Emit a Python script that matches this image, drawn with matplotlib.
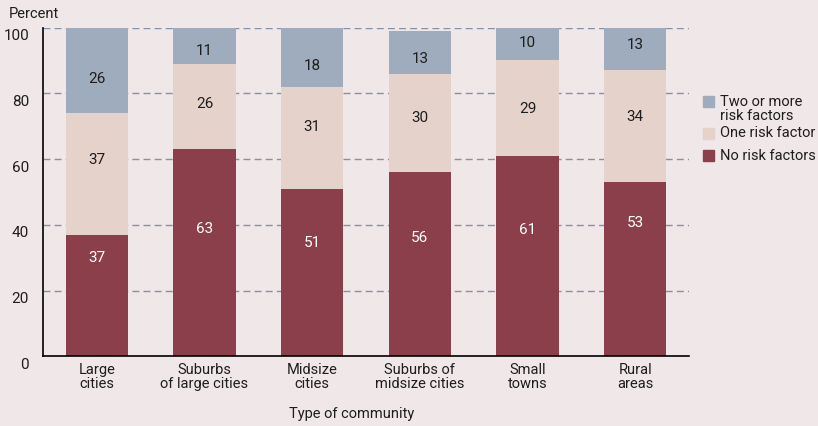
import matplotlib
matplotlib.use('Agg')
import matplotlib.pyplot as plt
import matplotlib.patches as mpatches
import matplotlib.transforms as mtransforms
import numpy as np

# ── data ─────────────────────────────────────
COMMUNITIES = ["Large\ncities", "Suburbs\nof large cities", "Midsize\ncities",
               "Suburbs of\nmidsize cities", "Small\ntowns", "Rural\nareas"]
NO_RISK     = [37, 63, 51, 56, 61, 53]
ONE_RISK    = [37, 26, 31, 30, 29, 34]
TWO_PLUS    = [26, 11, 18, 13, 10, 13]
Y_TICKS     = [0, 20, 40, 60, 80, 100]

# where the original puts the value labels (percent scale)
NO_LABEL_Y  = [30.0, 38.7, 34.4, 36.1, 38.3, 40.5]
ONE_LABEL_Y = [59.7, 76.8, 69.9, 72.4, 75.3, 72.8]
TWO_LABEL_Y = [84.4, 93.0, 88.4, 90.4, 95.4, 94.6]

BG      = '#F0E7E8'
C_NONE  = '#8A3F4A'
C_ONE   = '#E5D2CB'
C_TWO   = '#9FACBE'
TXT     = '#1E1E1E'

plt.rcParams['font.family'] = ['Roboto', 'DejaVu Sans']

W, H = 818, 426
fig = plt.figure(figsize=(W / 100, H / 100), dpi=100, facecolor=BG)
ax = fig.add_axes([43 / W, 1 - 356.4 / H, (689 - 43) / W, (356.4 - 27.6) / H], facecolor=BG)

x = np.arange(len(COMMUNITIES))
w = 0.58
no = np.array(NO_RISK)
one = np.array(ONE_RISK)
two = np.array(TWO_PLUS)

# dashed gridlines behind the bars
for yv in Y_TICKS[1:]:
    ax.axhline(yv, color='#8391A8', linestyle=(0, (5, 3)), linewidth=1.0, zorder=0)

ax.bar(x, no, w, color=C_NONE, zorder=2)
ax.bar(x, one, w, bottom=no, color=C_ONE, zorder=2)
ax.bar(x, two, w, bottom=no + one, color=C_TWO, zorder=2)

for i in range(len(x)):
    ax.text(x[i], NO_LABEL_Y[i], str(no[i]), ha='center', va='center',
            color='white', fontsize=11, zorder=3)
    ax.text(x[i], ONE_LABEL_Y[i], str(one[i]), ha='center', va='center',
            color=TXT, fontsize=11, zorder=3)
    ax.text(x[i], TWO_LABEL_Y[i], str(two[i]), ha='center', va='center',
            color=TXT, fontsize=11, zorder=3)

ax.set_xlim(-0.5, 5.5)
ax.set_ylim(0, 100)
ax.set_yticks(Y_TICKS)
ax.set_yticklabels([str(v) for v in Y_TICKS], fontsize=11, color=TXT)
ax.set_xticks(x)
ax.set_xticklabels(COMMUNITIES, fontsize=10.5, color=TXT, linespacing=1.0)
ax.tick_params(axis='both', length=0)
ax.tick_params(axis='y', pad=10)
ax.tick_params(axis='x', pad=5)

# y labels sit a little below their gridlines in the original
shift = mtransforms.ScaledTranslation(0, -7 / 100, fig.dpi_scale_trans)
for lab in ax.get_yticklabels():
    lab.set_transform(lab.get_transform() + shift)

for side in ['top', 'right']:
    ax.spines[side].set_visible(False)
for side in ['left', 'bottom']:
    ax.spines[side].set_color('black')
    ax.spines[side].set_linewidth(1.2)

fig.text(9 / W, 1 - 14 / H, "Percent", fontsize=10.5, color=TXT, va='center', ha='left')
fig.text(352 / W, 1 - 414 / H, "Type of community", fontsize=10.5, color=TXT,
         va='center', ha='center')

# legend drawn by hand to match the original spacing
# (colour, label, square top px, text centre px)
legend_items = [
    (C_TWO, "Two or more\nrisk factors", 96, 108.5),
    (C_ONE, "One risk factor", 128, 133),
    (C_NONE, "No risk factors", 150, 156),
]
for color, label, top, ty in legend_items:
    fig.patches.append(mpatches.Rectangle((703 / W, 1 - (top + 11) / H), 11 / W, 11 / H,
                                          transform=fig.transFigure, color=color))
    fig.text(720 / W, 1 - ty / H, label, fontsize=10.5, color=TXT,
             va='center', ha='left', linespacing=1.0)

fig.savefig('out.png', dpi=100, facecolor=BG)
